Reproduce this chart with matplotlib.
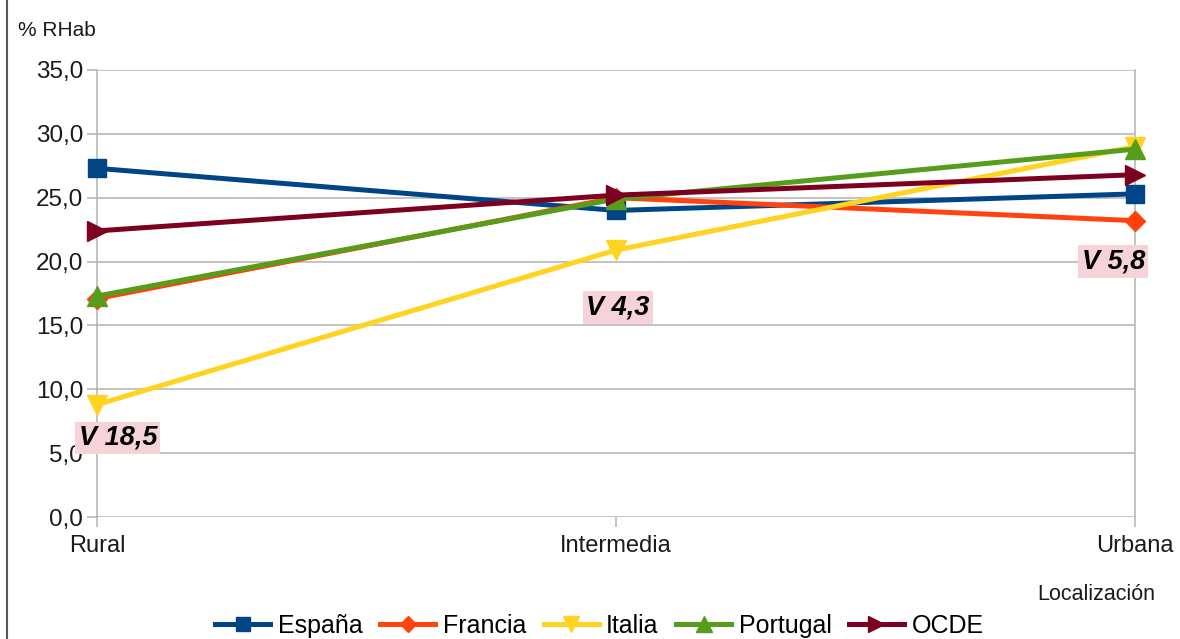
import matplotlib.pyplot as plt
from matplotlib.lines import Line2D

plt.rcParams['font.family'] = ['Liberation Sans', 'DejaVu Sans']

# Share of population (% RHab) by type of area
localizacion = ['Rural', 'Intermedia', 'Urbana']
espana = [27.3, 24.0, 25.3]
francia = [17.1, 25.0, 23.2]
italia = [8.8, 20.9, 29.0]
portugal = [17.3, 24.9, 28.8]
ocde = [22.4, 25.2, 26.8]

series = [
    ('España', espana, '#004586', 's', 13),
    ('Francia', francia, '#ff420e', 'D', 10),
    ('Italia', italia, '#ffd320', 'v', 14),
    ('Portugal', portugal, '#579d1c', '^', 14),
    ('OCDE', ocde, '#7e0021', '>', 14),
]

fig = plt.figure(figsize=(11.8, 6.39), dpi=100)
ax = fig.add_axes([0.0822, 0.1909, 0.8797, 0.6996])

xs = list(range(len(localizacion)))
for name, vals, color, marker, ms in series:
    ax.plot(xs, vals, color=color, lw=3.6, marker=marker, ms=ms,
            label=name, clip_on=False, solid_capstyle='butt', zorder=3)

ax.set_xlim(0, 2)
ax.set_ylim(0, 35)
ax.set_yticks(range(0, 36, 5))
ax.set_yticklabels([f'{v:.1f}'.replace('.', ',') for v in range(0, 36, 5)])
ax.set_xticks(xs)
ax.set_xticklabels(localizacion)
ax.grid(True, axis='y', color='#b3b3b3', lw=1.1)
ax.set_axisbelow(True)
for side, s in ax.spines.items():
    if side in ('left', 'right'):
        s.set_color('#b3b3b3')
        s.set_linewidth(1.1)
    else:
        s.set_visible(False)
ax.tick_params(axis='both', length=7, width=1.1, color='#b3b3b3',
               labelsize=17.5, labelcolor='#1a1a1a', pad=3)
ax.tick_params(axis='x', pad=6, labelsize=17)

# spread between highest and lowest value at each area type
for i in xs:
    vals = [s[1][i] for s in series]
    spread = max(vals) - min(vals)
    ypos = [6.2, 16.4, 20.0][i]
    xpos = [0.04, 0.004, -0.042][i]
    ax.text(i + xpos, ypos, f'V {spread:.1f}'.replace('.', ','),
            fontsize=19.5, fontweight='bold', fontstyle='italic',
            ha='center', va='center', zorder=4,
            bbox=dict(boxstyle='square,pad=0.12', fc='#f6d3d8', ec='none'))

fig.text(0.015, 0.953, '% RHab', fontsize=15, color='#1a1a1a', va='center')
fig.text(0.979, 0.07, 'Localización', fontsize=15.5, color='#1a1a1a',
         ha='right', va='center')

handles = [Line2D([], [], color=c, lw=3.6, marker=m, ms=ms * 0.8)
           for _, _, c, m, ms in series]
fig.legend(handles, [s[0] for s in series], loc='center',
           bbox_to_anchor=(0.508, 0.02), ncol=5, frameon=False,
           fontsize=18, handlelength=2.2, handletextpad=0.3,
           columnspacing=0.7, borderaxespad=0)

fig.add_artist(Line2D([0.006, 0.006], [0, 1], color='#555555', lw=1.5,
                      transform=fig.transFigure))

fig.savefig('out.png', dpi=100)
